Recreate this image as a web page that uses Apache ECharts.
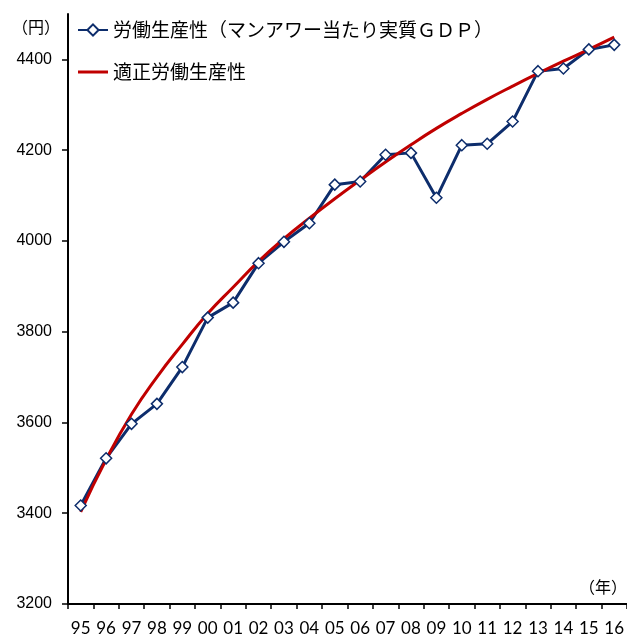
<!DOCTYPE html>
<html>
<head>
<meta charset="utf-8">
<script src="https://cdn.jsdelivr.net/npm/echarts@6/dist/echarts.min.js"></script>
<style>
    html, body { margin: 0; padding: 0; background: #fff; }
    #chart { width: 627px; height: 639px; }
</style>
</head>
<body>
<div id="chart"></div>
<script>
// 年（西暦下2桁）
var years = ['95', '96', '97', '98', '99', '00', '01', '02', '03', '04', '05',
    '06', '07', '08', '09', '10', '11', '12', '13', '14', '15', '16'];
// 労働生産性（マンアワー当たり実質ＧＤＰ）
var productivity = [3417, 3521, 3597, 3641, 3722, 3831, 3864, 3951, 3998, 4039, 4124,
    4131, 4190, 4194, 4095, 4211, 4214, 4263, 4374, 4380, 4422, 4432];
// 適正労働生産性
var properProductivity = [3403, 3518, 3618, 3700, 3772, 3840, 3898, 3955, 4005, 4050, 4093,
    4134, 4174, 4212, 4248, 4281, 4312, 4341, 4369, 4396, 4422, 4449];

var names = ['労働生産性（マンアワー当たり実質ＧＤＰ）', '適正労働生産性'];

var myChart = echarts.init(document.getElementById('chart'));

var option = {
    backgroundColor: '#fff',
    animation: false,
    grid: {
        left: 68,
        top: 14,
        width: 563,
        height: 590
    },
    legend: {
        orient: 'vertical',
        left: 77,
        top: 20,
        padding: 0,
        itemWidth: 30,
        itemHeight: 14,
        itemGap: 22,
        textStyle: {
            fontFamily: 'Noto Sans CJK JP',
            fontSize: 19,
            lineHeight: 20,
            color: '#000'
        },
        data: [
            { name: names[0] },
            { name: names[1], icon: 'path://M0,0 L30,0 L30,3 L0,3 Z' }
        ]
    },
    graphic: [{
        type: 'text',
        left: 12,
        top: 19,
        style: { text: '（円）', font: '16px "Noto Sans CJK JP"', fill: '#000' }
    }, {
        type: 'text',
        left: 579,
        top: 579,
        style: { text: '（年）', font: '16px "Noto Sans CJK JP"', fill: '#000' }
    }],
    xAxis: {
        type: 'category',
        boundaryGap: true,
        data: years,
        axisLine: { lineStyle: { color: '#000', width: 2 } },
        axisTick: { show: true, length: 5, lineStyle: { color: '#000', width: 1.5 } },
        axisLabel: {
            margin: 16,
            interval: 0,
            fontFamily: 'Lato',
            fontSize: 17,
            color: '#000'
        },
        splitLine: { show: false }
    },
    yAxis: {
        type: 'value',
        min: 3200,
        max: 4500,
        interval: 200,
        axisLine: { show: true, lineStyle: { color: '#000', width: 2 } },
        axisTick: { show: true, length: 6, lineStyle: { color: '#000', width: 1.5 } },
        axisLabel: {
            margin: 16,
            showMaxLabel: false,
            fontFamily: 'Liberation Sans',
            fontSize: 16,
            color: '#000',
            formatter: function (v) { return String(v); }
        },
        splitLine: { show: false }
    },
    series: [{
        name: names[0],
        type: 'line',
        data: productivity,
        symbol: 'diamond',
        symbolSize: 11,
        lineStyle: { width: 3, color: '#0d2d6c' },
        itemStyle: { color: '#fff', borderColor: '#0d2d6c', borderWidth: 1.5 }
    }, {
        name: names[1],
        type: 'line',
        data: properProductivity,
        smooth: true,
        symbol: 'none',
        lineStyle: { width: 3, color: '#c00000' },
        itemStyle: { color: '#c00000' }
    }]
};
myChart.setOption(option);
</script>
</body>
</html>
